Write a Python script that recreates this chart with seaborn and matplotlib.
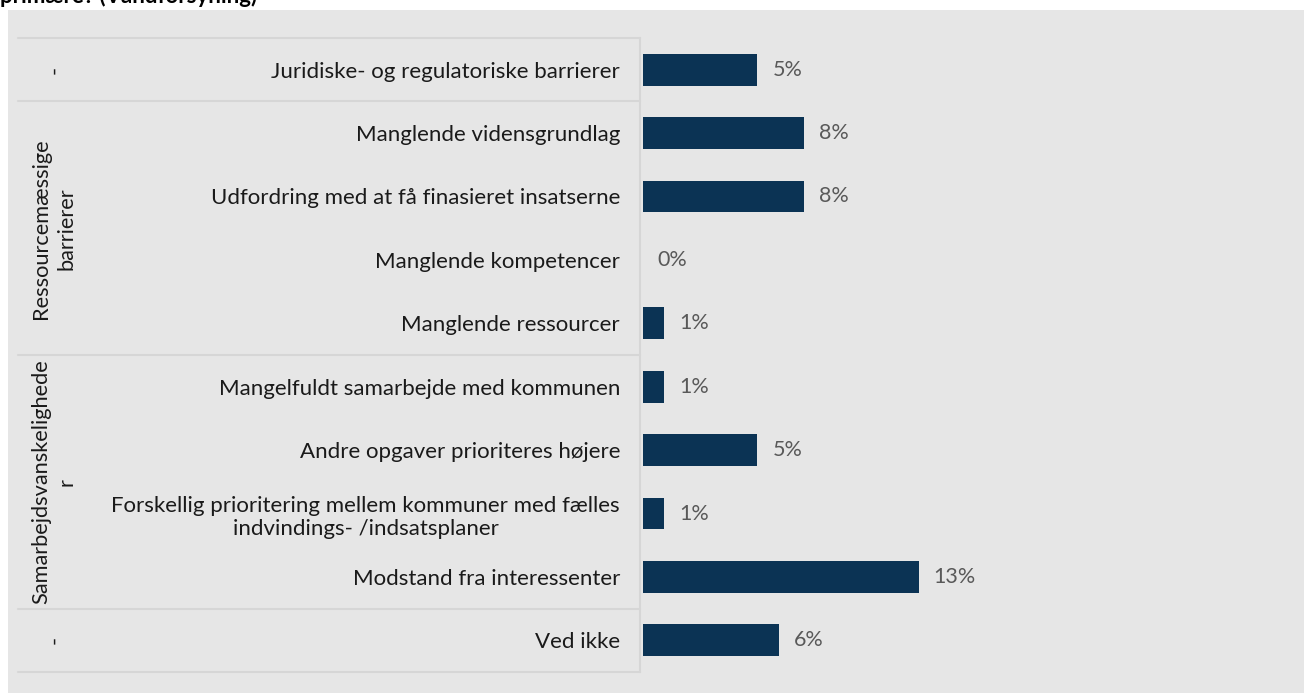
import matplotlib
matplotlib.use("Agg")
import matplotlib.pyplot as plt
from matplotlib.patches import Rectangle
import seaborn as sns
import pandas as pd

# Data
categories = [
    "Juridiske- og regulatoriske barrierer",
    "Manglende vidensgrundlag",
    "Udfordring med at få finasieret insatserne",
    "Manglende kompetencer",
    "Manglende ressourcer",
    "Mangelfuldt samarbejde med kommunen",
    "Andre opgaver prioriteres højere",
    "Forskellig prioritering mellem kommuner med fælles\nindvindings- /indsatsplaner",
    "Modstand fra interessenter",
    "Ved ikke",
]
values = [5.4, 7.6, 7.6, 0.0, 1.0, 1.0, 5.4, 1.0, 13.0, 6.4]
value_labels = ["5%", "8%", "8%", "0%", "1%", "1%", "5%", "1%", "13%", "6%"]
groups = ["-", "Ressourcemæssige\nbarrierer", "Samarbejdsvanskelighede\nr", "-"]
group_rows = [(0, 0), (1, 4), (5, 8), (9, 9)]

df = pd.DataFrame({"category": categories, "value": values})

sns.set_style("white")
plt.rcParams["font.family"] = ["Lato", "DejaVu Sans"]

W, H = 1304, 693
fig = plt.figure(figsize=(W / 100, H / 100), dpi=100)
fig.patch.set_facecolor("white")

# gray panel behind everything
fig.patches.append(Rectangle((8 / W, 0), 1, (H - 10) / H, transform=fig.transFigure,
                             facecolor="#e6e6e6", edgecolor="none", zorder=-5))

fig.text(0.0, 1 - 3 / H, "primære? (Vandforsyning)", fontsize=16, fontweight="bold",
         va="baseline", ha="left", color="black")

ax = fig.add_axes([643 / W, (H - 672) / H, (1290 - 643) / W, (672 - 38) / H])
ax.set_facecolor("none")
sns.barplot(data=df, x="value", y="category", orient="h", color="#0b3354",
            saturation=1, width=0.5, linewidth=0, ax=ax)
ax.set_xlim(0, 647 / 21.2)
ax.set_ylim(9.5, -0.5)
ax.set_xlabel("")
ax.set_ylabel("")
ax.set_xticks([])
ax.tick_params(axis="y", length=0, pad=16.5, labelsize=16, labelcolor="#1a1a1a")
for t in ax.get_yticklabels():
    t.set_multialignment("center")
for s in ax.spines.values():
    s.set_visible(False)

for i, (v, lab) in enumerate(zip(values, value_labels)):
    ax.text(v + 0.7, i, lab, va="center", ha="left", fontsize=15.5, color="#595959")

# category frame lines
trans = ax.get_yaxis_transform()
x_left = (18 - 643) / 647
x_right = (640 - 643) / 647
line_kw = dict(color="#d6d6d6", lw=1.5, transform=trans, clip_on=False)
for yb in [-0.5, 0.5, 4.5, 8.5, 9.5]:
    ax.plot([x_left, x_right], [yb, yb], **line_kw)
ax.plot([x_right, x_right], [-0.5, 9.5], **line_kw)

x_group = (54 - 643) / 647
for g, (a, b) in zip(groups, group_rows):
    ax.text(x_group, (a + b) / 2, g, rotation=90, va="center", ha="center",
            fontsize=15.7, color="#1a1a1a", multialignment="center",
            linespacing=1.35, transform=trans)

fig.savefig("out.png", dpi=100, facecolor=fig.get_facecolor())
